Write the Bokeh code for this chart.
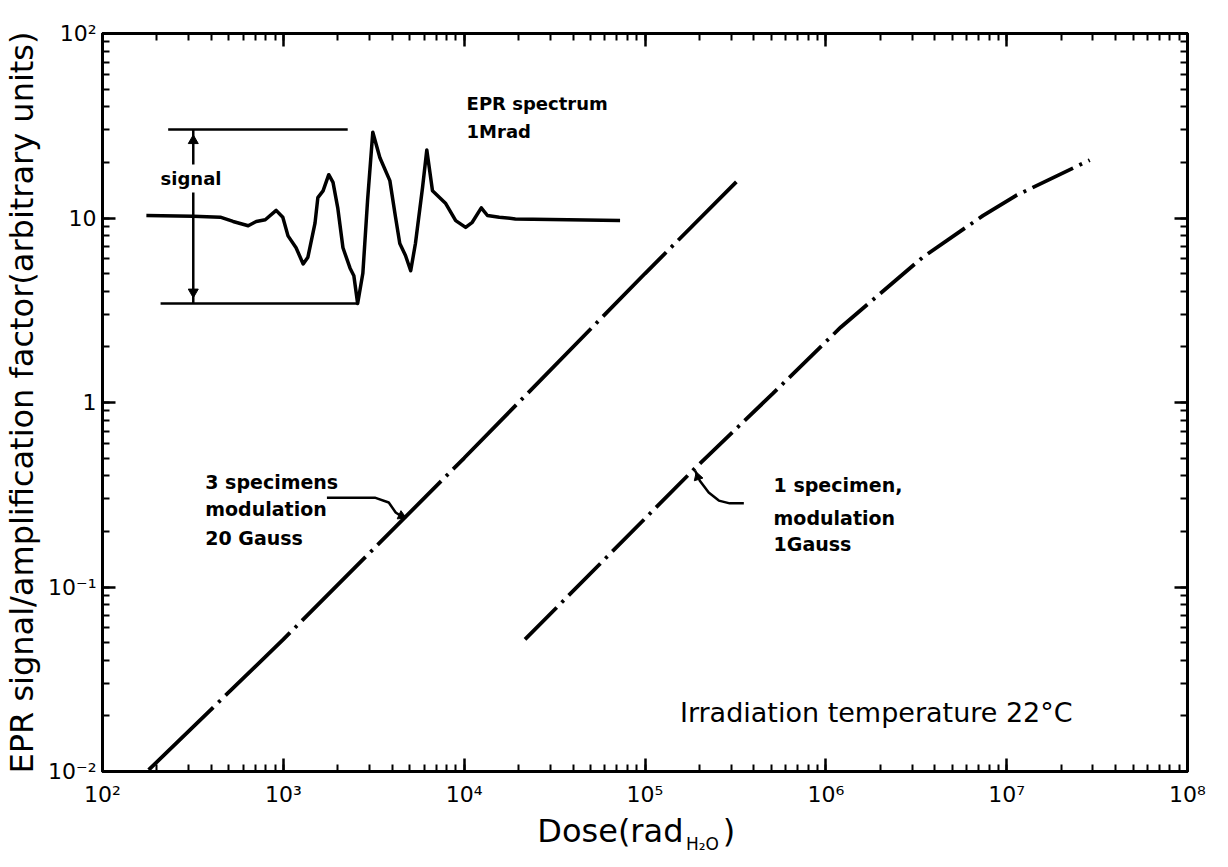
from bokeh.plotting import figure
from bokeh.layouts import column
from bokeh.models import LogAxis, LogTicker, Range1d, LinearScale, Label
from bokeh.embed import file_html
from bokeh.resources import INLINE

# ---- data ----
dose_3spec = [180, 1.0e3, 1.0e4, 1.0e5, 3.2e5]
signal_3spec = [0.0102, 0.052, 0.50, 5.0, 15.7]

dose_1spec = [2.17e4, 1.91e5, 5.1e5, 1.21e6, 3.44e6, 7.4e6, 1.12e7, 2.88e7]
signal_1spec = [0.052, 0.445, 1.12, 2.56, 6.13, 10.3, 13.2, 20.6]

# inset EPR spectrum (arbitrary field units 0..100, amplitude relative to baseline)
spec_field = [0, 9.9, 15.6, 18.3, 21.5, 23.2, 25.1, 27.4, 28.8, 29.9, 31.6, 33.1, 34.1,
              35.6, 36.2, 37.3, 38.5, 39.4, 40.4, 41.5, 43.0, 43.8, 44.6, 45.7, 46.7,
              47.8, 49.3, 51.4, 52.6, 53.5, 54.7, 55.8, 56.8, 58.3, 59.2, 60.4, 63.2,
              65.3, 67.4, 68.8, 70.7, 72.0, 74.5, 77.9, 100]
spec_amp = [0, -0.01, -0.02, -0.07, -0.12, -0.07, -0.05, 0.06, -0.02, -0.24, -0.38,
            -0.57, -0.49, -0.09, 0.21, 0.29, 0.48, 0.39, 0.09, -0.38, -0.62, -0.71,
            -1.035, -0.68, 0.18, 0.98, 0.68, 0.41, -0.02, -0.33, -0.47, -0.65, -0.33,
            0.33, 0.77, 0.29, 0.14, -0.06, -0.14, -0.08, 0.09, 0.0, -0.02, -0.04, -0.06]
signal_top = 1.012
signal_bottom = -1.035

x_ticks = [1e2, 1e3, 1e4, 1e5, 1e6, 1e7, 1e8]
x_tick_labels = ["10²", "10³", "10⁴", "10⁵", "10⁶", "10⁷", "10⁸"]
y_ticks = [1e-2, 1e-1, 1e0, 1e1, 1e2]
y_tick_labels = ["10⁻²", "10⁻¹", "1", "10", "10²"]

FONT = "DejaVu Sans"

p = figure(width=1228, height=813, x_axis_type="log", y_axis_type="log",
           x_range=(1e2, 1e8), y_range=(1e-2, 1e2),
           output_backend="svg", toolbar_location=None,
           min_border_left=99, min_border_right=41, min_border_top=33, min_border_bottom=42)
p.grid.visible = False
p.outline_line_color = "black"
p.outline_line_width = 3
p.background_fill_color = "white"
p.border_fill_color = "white"

def style_axis(ax):
    ax.axis_line_width = 3
    ax.axis_line_color = "black"
    ax.major_tick_in = 13
    ax.major_tick_out = 0
    ax.minor_tick_in = 7
    ax.minor_tick_out = 0
    ax.major_tick_line_width = 2.5
    ax.minor_tick_line_width = 2
    ax.major_tick_line_color = "black"
    ax.minor_tick_line_color = "black"
    ax.major_label_text_font = FONT
    ax.major_label_text_color = "black"

for ax in p.xaxis:
    style_axis(ax)
    ax.major_label_overrides = dict(zip(x_ticks, x_tick_labels))
    ax.major_label_text_font_size = "22px"
    ax.major_label_standoff = 10
for ax in p.yaxis:
    style_axis(ax)
    ax.major_label_overrides = dict(zip(y_ticks, y_tick_labels))
    ax.major_label_text_font_size = "22px"
    ax.major_label_standoff = 6
    ax.axis_label = "EPR signal/amplification factor(arbitrary units)"
    ax.axis_label_text_font = FONT
    ax.axis_label_text_font_size = "32px"
    ax.axis_label_text_font_style = "normal"
    ax.axis_label_text_color = "black"
    ax.axis_label_standoff = 4

top_ax = LogAxis(ticker=LogTicker(num_minor_ticks=10))
style_axis(top_ax)
top_ax.major_label_text_font_size = "6px"
top_ax.major_label_text_alpha = 0
top_ax.major_label_standoff = 0
p.add_layout(top_ax, "above")
right_ax = LogAxis(ticker=LogTicker(num_minor_ticks=10))
style_axis(right_ax)
right_ax.major_label_text_font_size = "6px"
right_ax.major_label_text_alpha = 0
right_ax.major_label_standoff = 0
p.add_layout(right_ax, "right")

# ---- data curves ----
p.line(dose_3spec, signal_3spec, line_color="black", line_width=3.8, line_dash="90 7 3 7")
p.line(dose_1spec, signal_1spec, line_color="black", line_width=3.8, line_dash="45 7 3 7")

# ---- leaders ----
lead1_x = [1742, 3206, 3828, 4181, 4690]
lead1_y = [0.305, 0.305, 0.287, 0.2535, 0.235]
p.line(lead1_x, lead1_y, line_color="black", line_width=2.5)
lead2_x = [3.52e5, 2.94e5, 2.56e5, 2.25e5, 2.01e5, 1.89e5]
lead2_y = [0.284, 0.284, 0.294, 0.325, 0.377, 0.428]
p.line(lead2_x, lead2_y, line_color="black", line_width=2.5)
p.scatter([4500, 1.96e5], [0.243, 0.395], marker="triangle", size=9, color="black",
          angle=[-2.0, 2.4])

# ---- inset spectrum on its own linear frame ----
p.extra_x_ranges = {"ix": Range1d(-9.263, 219.79)}
p.extra_y_ranges = {"iy": Range1d(-6.541, 2.141)}
p.extra_x_scales = {"ix": LinearScale()}
p.extra_y_scales = {"iy": LinearScale()}

p.line(spec_field, spec_amp, x_range_name="ix", y_range_name="iy",
       line_color="black", line_width=3.5, line_join="round")
p.line([4.6, 42.5], [signal_top, signal_top], x_range_name="ix", y_range_name="iy",
       line_color="black", line_width=2.5)
p.line([3.0, 44.6], [signal_bottom, signal_bottom], x_range_name="ix", y_range_name="iy",
       line_color="black", line_width=2.5)
p.line([9.9, 9.9], [0.60, signal_top], x_range_name="ix", y_range_name="iy",
       line_color="black", line_width=2.5)
p.line([9.9, 9.9], [0.27, signal_bottom], x_range_name="ix", y_range_name="iy",
       line_color="black", line_width=2.5)
p.scatter([9.9, 9.9], [0.88, -0.90], x_range_name="ix", y_range_name="iy",
          marker="triangle", size=10, color="black", angle=[0.0, 3.14159])

def lab(fig, x, y, text, size, bold=False, rx="default", ry="default"):
    fig.add_layout(Label(x=x, y=y, text=text, x_range_name=rx, y_range_name=ry,
                         text_font=FONT, text_font_size=size,
                         text_font_style="bold" if bold else "normal",
                         text_baseline="middle", text_align="left", text_color="black"))

lab(p, 3.0, 0.435, "signal", "18px", True, "ix", "iy")
lab(p, 67.6, 1.318, "EPR spectrum", "18px", True, "ix", "iy")
lab(p, 67.6, 0.988, "1Mrad", "18px", True, "ix", "iy")

lab(p, 370, 0.373, "3 specimens", "19px", True)
lab(p, 370, 0.266, "modulation", "19px", True)
lab(p, 370, 0.185, "20 Gauss", "19px", True)

lab(p, 5.14e5, 0.355, "1 specimen,", "19px", True)
lab(p, 5.14e5, 0.238, "modulation", "19px", True)
lab(p, 5.14e5, 0.172, "1Gauss", "19px", True)

lab(p, 1.56e5, 0.0209, "Irradiation temperature  22°C", "27px")

# ---- x axis title (with subscript) in a thin strip below ----
# the strip's frame is aligned with the main frame (page px 99..1187)
p2 = figure(width=1228, height=54, x_range=Range1d(99, 1187), y_range=Range1d(54, 0),
            x_axis_location=None, y_axis_location=None,
            output_backend="svg", toolbar_location=None, min_border=0)
p2.grid.visible = False
p2.outline_line_color = None
p2.background_fill_color = "white"
p2.border_fill_color = "white"
lab(p2, 535, 17, "Dose(rad", "32px")
lab(p2, 684, 30, "H₂O", "17px")
lab(p2, 721, 17, ")", "32px")

open("out.html", "w").write(file_html(column(p, p2, spacing=0), INLINE))
